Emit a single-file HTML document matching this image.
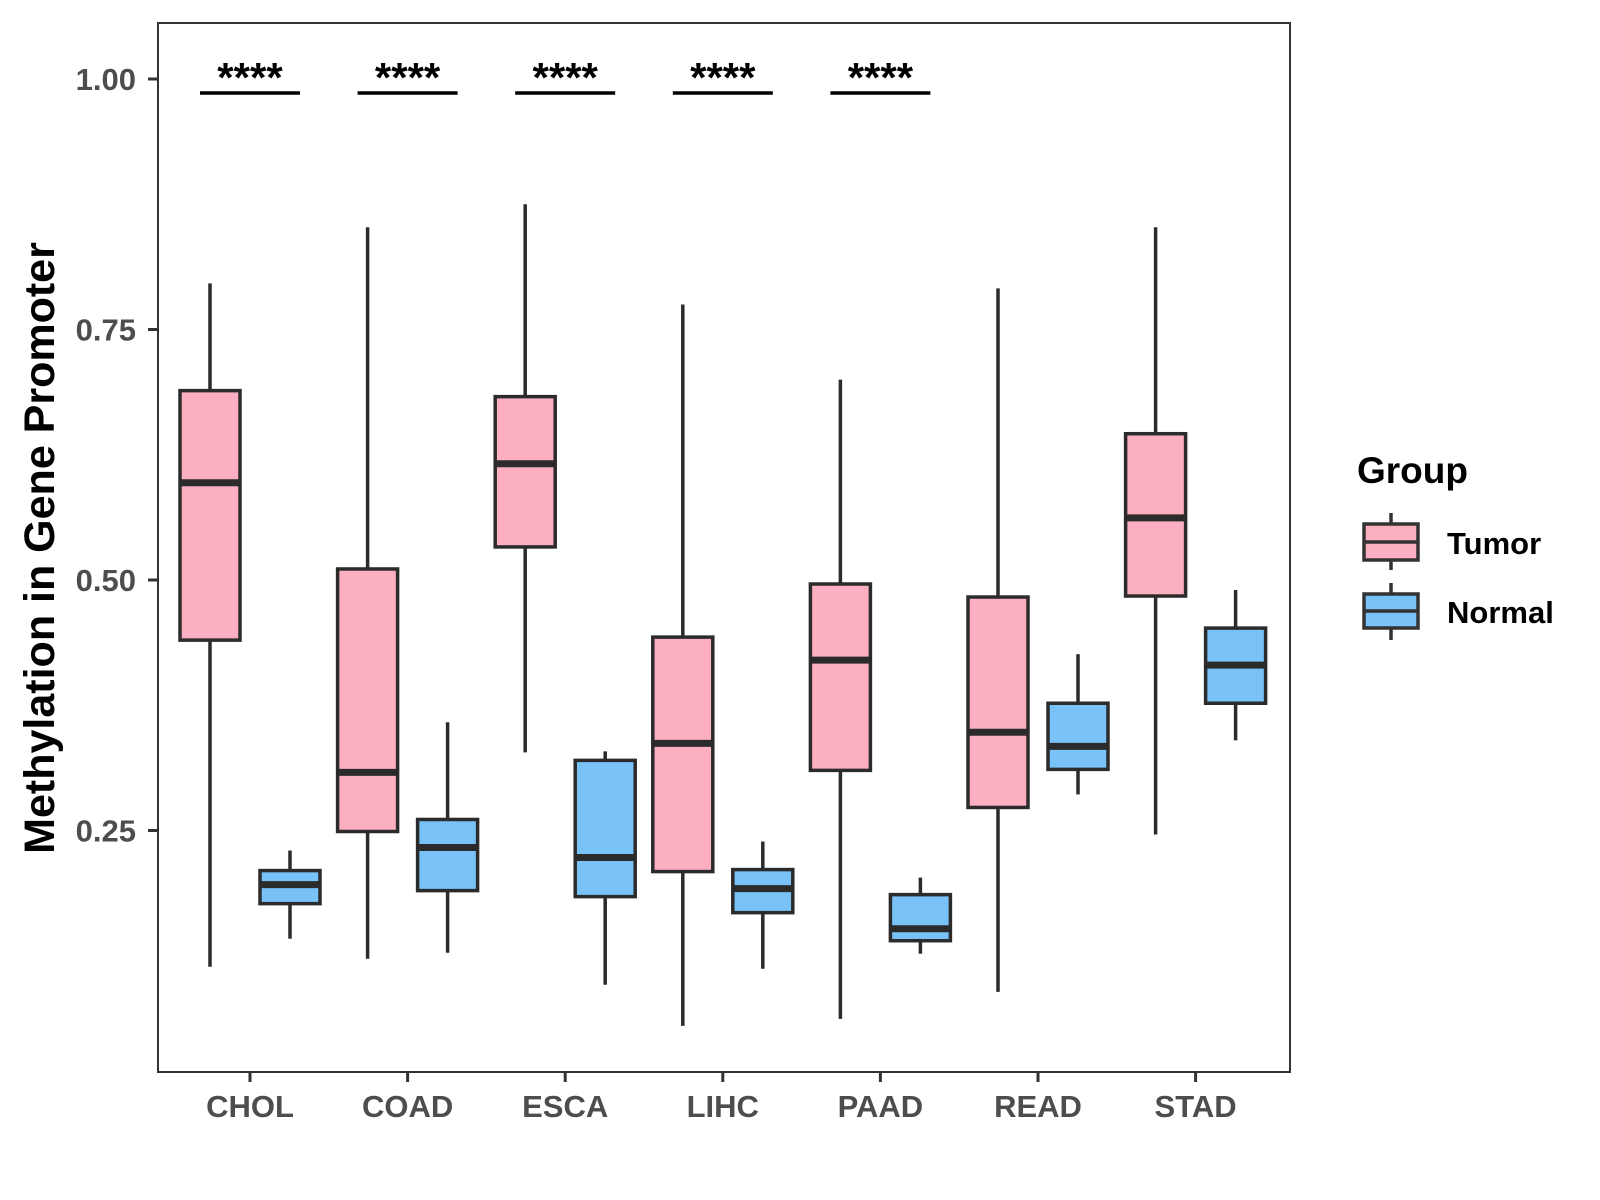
<!DOCTYPE html>
<html><head><meta charset="utf-8"><style>
html,body{margin:0;padding:0;background:#fff;}
svg{display:block;font-family:"Liberation Sans",Arial,sans-serif;}
</style></head><body>
<svg id="chart" width="1600" height="1200" viewBox="0 0 1600 1200">
<rect x="158" y="23" width="1132" height="1049" fill="#fff" stroke="#333" stroke-width="2"/>
<g id="marks"></g>
<text transform="translate(54,548) rotate(-90)" text-anchor="middle" font-size="43" font-weight="bold" fill="#000">Methylation in Gene Promoter</text>
<g>
<text x="1357" y="483" font-size="37" font-weight="bold" fill="#000">Group</text>
<g>
<line x1="1391" y1="513" x2="1391" y2="570" stroke="#333" stroke-width="3.5"/>
<rect x="1364" y="524" width="54" height="36" fill="#FBAFC1" stroke="#333" stroke-width="3.5"/>
<line x1="1364" y1="542" x2="1418" y2="542" stroke="#333" stroke-width="3.5"/>
<text x="1447" y="554" font-size="31" font-weight="bold" fill="#000">Tumor</text>
</g>
<g>
<line x1="1391" y1="583" x2="1391" y2="640" stroke="#333" stroke-width="3.5"/>
<rect x="1364" y="594" width="54" height="34" fill="#78C2F8" stroke="#333" stroke-width="3.5"/>
<line x1="1364" y1="611" x2="1418" y2="611" stroke="#333" stroke-width="3.5"/>
<text x="1447" y="623" font-size="31" font-weight="bold" fill="#000">Normal</text>
</g>
</g>
</svg>
<script>
const categories=["CHOL","COAD","ESCA","LIHC","PAAD","READ","STAD"];
// [lowerWhisker, Q1, median, Q3, upperWhisker]
const tumorStats=[[0.114,0.440,0.597,0.689,0.796],[0.122,0.249,0.308,0.511,0.852],[0.328,0.533,0.616,0.683,0.875],[0.055,0.209,0.337,0.443,0.775],[0.062,0.310,0.420,0.496,0.700],[0.089,0.273,0.348,0.483,0.791],[0.246,0.484,0.562,0.646,0.852]];
const normalStats=[[0.142,0.177,0.196,0.210,0.230],[0.128,0.190,0.233,0.261,0.358],[0.096,0.184,0.223,0.320,0.329],[0.112,0.168,0.192,0.211,0.239],[0.127,0.140,0.152,0.186,0.203],[0.286,0.311,0.334,0.377,0.426],[0.340,0.377,0.415,0.452,0.490]];
const significance=["****","****","****","****","****","",""];
const yTicks=[0.25,0.50,0.75,1.00];
const yTickLabels=["0.25","0.50","0.75","1.00"];

const NS="http://www.w3.org/2000/svg";
const g=document.getElementById("marks");
function yS(v){return 79+(1-v)*1002;}
function xS(i){return 250+i*157.6;}
function mk(tag,attrs,parent){const e=document.createElementNS(NS,tag);for(const k in attrs)e.setAttribute(k,attrs[k]);(parent||g).appendChild(e);return e;}

yTicks.forEach((t,i)=>{
  const tk=mk("line",{x1:148,x2:158,y1:yS(t),y2:yS(t),stroke:"#333","stroke-width":3});
  
  
  const tl=mk("text",{x:136,y:yS(t)+11,"text-anchor":"end","font-size":31,"font-weight":"bold",fill:"#4d4d4d"});
  tl.textContent=yTickLabels[i];
  
  
});

function drawBox(s,cx,fill,name){
  const grp=mk("g",{});
  
  
  const w=60;
  mk("line",{x1:cx,x2:cx,y1:yS(s[4]),y2:yS(s[3]),stroke:"#2b2b2b","stroke-width":3.5},grp);
  mk("line",{x1:cx,x2:cx,y1:yS(s[1]),y2:yS(s[0]),stroke:"#2b2b2b","stroke-width":3.5},grp);
  mk("rect",{x:cx-w/2,y:yS(s[3]),width:w,height:yS(s[1])-yS(s[3]),fill:fill,stroke:"#2b2b2b","stroke-width":3.5},grp);
  mk("line",{x1:cx-w/2,x2:cx+w/2,y1:yS(s[2]),y2:yS(s[2]),stroke:"#2b2b2b","stroke-width":7},grp);
}

categories.forEach((c,i)=>{
  const cx=xS(i);
  drawBox(tumorStats[i],cx-40,"#FBAFC1","box-tumor-"+c.toLowerCase());
  drawBox(normalStats[i],cx+40,"#78C2F8","box-normal-"+c.toLowerCase());
  const tk=mk("line",{x1:cx,x2:cx,y1:1072,y2:1082,stroke:"#333","stroke-width":3});
  
  
  const tl=mk("text",{x:cx,y:1117,"text-anchor":"middle","font-size":31,"font-weight":"bold",fill:"#4d4d4d"});
  tl.textContent=c;
  
  
  if(significance[i]){
    const b=mk("line",{x1:cx-50,x2:cx+50,y1:93,y2:93,stroke:"#000","stroke-width":3.5});
    
    
    const st=mk("text",{x:cx,y:92,"text-anchor":"middle","font-size":42,"font-weight":"bold",fill:"#000"});
    st.textContent=significance[i];
    
    
  }
});
</script>
</body></html>
